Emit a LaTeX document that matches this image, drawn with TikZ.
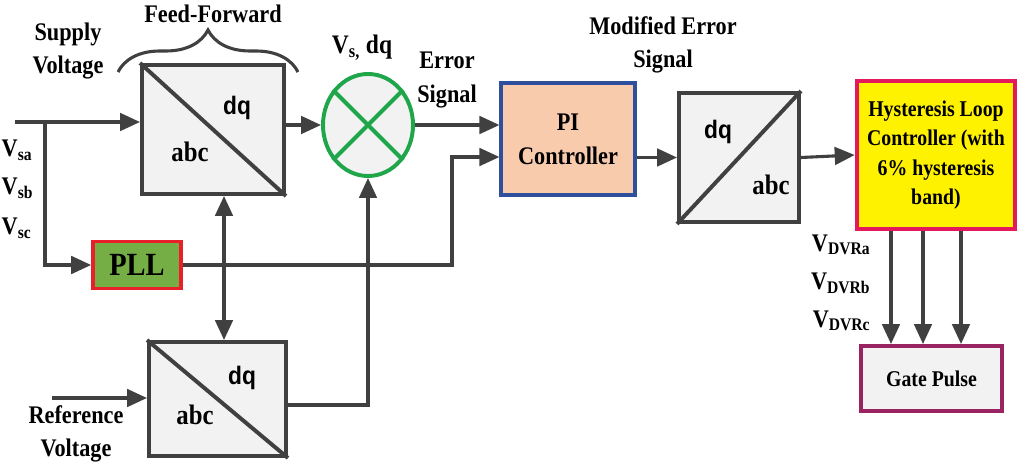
\documentclass[tikz,border=0pt]{standalone}
\usepackage{fontspec}
\setmainfont{Liberation Serif}[FakeStretch=0.88]
\newfontfamily\dqsans{Liberation Sans}[FakeStretch=0.9]
\usetikzlibrary{arrows.meta,shapes.geometric,decorations.pathreplacing}

\definecolor{dgray}{HTML}{404040}
\definecolor{boxgray}{HTML}{F2F2F2}
\definecolor{ringgreen}{HTML}{1FA64A}
\definecolor{pifill}{HTML}{F8CBAD}
\definecolor{piedge}{HTML}{2E4F9C}
\definecolor{pllfill}{HTML}{74AE44}
\definecolor{plledge}{HTML}{E8202A}
\definecolor{hystfill}{HTML}{FFF200}
\definecolor{hystedge}{HTML}{E3195C}
\definecolor{gateedge}{HTML}{9A2462}

\begin{document}
\begin{tikzpicture}[
  x=0.025cm, y=-0.025cm,
  font=\fontsize{18}{20}\selectfont\bfseries,
  blk/.style={draw=dgray, line width=2.8pt, fill=boxgray, inner sep=0pt},
  lbl/.style={align=center, inner sep=1pt},
  twoline/.style={lbl, font=\fontsize{18}{24}\selectfont\bfseries},
  dqtxt/.style={font=\dqsans\bfseries\fontsize{18}{20}\selectfont, inner sep=0pt},
  abctxt/.style={font=\bfseries\fontsize{20}{22}\selectfont, inner sep=0pt},
  con/.style={draw=dgray, line width=2.2pt},
  arr/.style={con, -{Triangle[length=0.5cm,width=0.44cm]}},
  dbl/.style={con, {Triangle[length=0.5cm,width=0.44cm]}-{Triangle[length=0.5cm,width=0.44cm]}}
]
\useasboundingbox (0,0) rectangle (1019,466);
% ---------------- feed-forward transform ---------------------------------
\node[blk, minimum width=3.55cm, minimum height=3.225cm] (box1) at (213,129.5) {};
\draw[con, line width=2.8pt] (box1.north west) -- (box1.south east);
\node[dqtxt] (d1) at (237,108) {dq};
\node[abctxt] (a1) at (190,152) {abc};
\draw[con, decorate, decoration={brace, amplitude=1.05cm}] (118,72) -- (298,72);
\node[lbl] (ff) at (213,14) {Feed-Forward};
\node[twoline] (sup) at (68,51) {Supply\\Voltage};
% supply phases
\node[lbl, anchor=west] (vsa) at (0,150) {V\textsubscript{sa}};
\node[lbl, anchor=west] (vsb) at (0,188) {V\textsubscript{sb}};
\node[lbl, anchor=west] (vsc) at (0,228) {V\textsubscript{sc}};
\coordinate (in) at (15,122);
\coordinate (br) at (45,122);
\draw[arr] (in) -- (in -| box1.west);
% ---------------- PLL -------------------------------------------------------
\node[blk, draw=plledge, fill=pllfill, line width=2.6pt, minimum width=2.2cm, minimum height=1.175cm,
  font=\fontsize{23}{24}\selectfont\bfseries] (pll) at (137,265) {PLL};
\draw[arr] (br) |- (pll.west);
% ---------------- reference transform ---------------------------------------
\node[blk, minimum width=3.425cm, minimum height=2.85cm] (box2) at (217.5,399) {};
\draw[con, line width=2.8pt] (box2.north west) -- (box2.south east);
\node[dqtxt] (d2) at (242,378) {dq};
\node[abctxt] (a2) at (195,415) {abc};
\coordinate (ref) at (52,398);
\draw[arr] (ref) -- (ref -| box2.west);
\node[twoline] (rv) at (76,434) {Reference\\Voltage};
\draw[dbl] ([xshift=0.275cm]box1.south) -- ([xshift=0.275cm]box1.south |- box2.north);
% ---------------- comparator ------------------------------------------------
\node[ellipse, draw=ringgreen, line width=2.8pt, fill=boxgray, inner sep=0pt,
  minimum width=2.25cm, minimum height=2.55cm] (sum) at (368,125) {};
\draw[ringgreen, line width=2.8pt] (sum.135) -- (sum.-45) (sum.45) -- (sum.-135);
\node[lbl, font=\fontsize{19}{20}\selectfont\bfseries] (vsdq) at (362,48) {V\textsubscript{s,} dq};
\draw[arr] (box1.east |- sum.west) -- (sum.west);
\draw[arr] ([yshift=-0.15cm]box2.east) -| (sum.south);
% ---------------- PI controller ---------------------------------------------
\node[blk, draw=piedge, fill=pifill, line width=2.2pt, minimum width=3.35cm, minimum height=2.8cm,
  align=center, font=\fontsize{18}{24}\selectfont\bfseries] (pi) at (568,139) {PI\\Controller};
\draw[arr] (sum.east) -- (sum.east -| pi.west);
\node[twoline] (err) at (447,80) {Error\\Signal};
\coordinate (pj) at (452,265);
\draw[arr] (pll.east) -- (pj) |- ([yshift=-0.45cm]pi.west);
% ---------------- inverse transform -----------------------------------------
\node[blk, minimum width=3.0cm, minimum height=3.225cm] (box3) at (739,157.5) {};
\draw[con, line width=2.8pt] (box3.south west) -- (box3.north east);
\node[dqtxt] (d3) at (718,132) {dq};
\node[abctxt] (a3) at (771,185) {abc};
\draw[arr] (pi.east |- box3.west) -- (box3.west);
\node[twoline] (mes) at (663,45) {Modified Error\\Signal};
% ---------------- hysteresis and gate pulse ---------------------------------
\node[blk, draw=hystedge, fill=hystfill, line width=3.2pt, minimum width=3.95cm, minimum height=3.7cm,
  align=center, font=\fontsize{16}{21}\selectfont\bfseries] (hyst) at (936,155)
  {Hysteresis Loop\\Controller (with\\6\% hysteresis\\band)};
\draw[arr] (box3.east) -- (hyst.west);
\node[blk, draw=gateedge, fill=boxgray, line width=2.8pt, minimum width=3.525cm, minimum height=1.625cm,
  font=\fontsize{16}{17}\selectfont\bfseries] (gate) at (931.5,378.5) {Gate Pulse};
\foreach \dx in {-1.125,-0.325,0.625}
  \draw[arr] ([xshift=\dx cm]hyst.south) -- ([xshift=\dx cm]hyst.south |- gate.north);
\node[lbl, anchor=east] (vda) at (872,245) {V\textsubscript{DVRa}};
\node[lbl, anchor=east] (vdb) at (872,283) {V\textsubscript{DVRb}};
\node[lbl, anchor=east] (vdc) at (872,321) {V\textsubscript{DVRc}};
\end{tikzpicture}
\end{document}
